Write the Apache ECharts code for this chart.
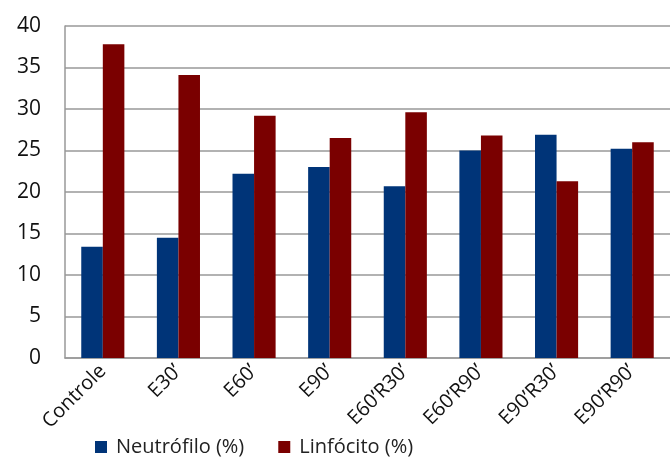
<!DOCTYPE html>
<html><head><meta charset="utf-8">
<script src="https://cdn.jsdelivr.net/npm/echarts@6/dist/echarts.min.js"></script>
<style>html,body{margin:0;padding:0;background:#fff}#c{width:670px;height:460px}</style>
</head><body><div id="c"></div>
<script>
const categories = ["Controle", "E30\u2019", "E60\u2019", "E90\u2019", "E60\u2019R30\u2019", "E60\u2019R90\u2019", "E90\u2019R30\u2019", "E90\u2019R90\u2019"];
const neutrofilo = [13.4, 14.5, 22.2, 23.0, 20.7, 25.0, 26.9, 25.2];
const linfocito = [37.8, 34.1, 29.2, 26.5, 29.6, 26.8, 21.3, 26.0];
const yTicks = {min: 0, max: 40, interval: 5};

const chart = echarts.init(document.getElementById('c'));
const font = '"Open Sans", sans-serif';
chart.setOption({
  animation: false,
  grid: {left: 65, right: -2, top: 26, bottom: 102, containLabel: false},
  legend: {
    bottom: -2, left: 90, itemWidth: 12, itemHeight: 12, itemGap: 34,
    icon: 'rect',
    textStyle: {fontFamily: font, fontSize: 20, color: '#222', padding: [0, 0, 0, 4]},
    data: ['Neutr\u00f3filo (%)', 'Linf\u00f3cito (%)']
  },
  xAxis: {
    type: 'category', data: categories,
    axisLine: {lineStyle: {color: '#999', width: 1.5}},
    axisTick: {show: false},
    axisLabel: {rotate: 45, fontFamily: font, fontSize: 20, color: '#111', margin: 10, interval: 0}
  },
  yAxis: {
    type: 'value', min: yTicks.min, max: yTicks.max, interval: yTicks.interval,
    axisLine: {show: true, lineStyle: {color: '#999', width: 1.5}},
    axisTick: {show: false},
    splitLine: {lineStyle: {color: '#999', width: 1.5}},
    axisLabel: {fontFamily: font, fontSize: 21, color: '#111', margin: 24}
  },
  series: [
    {name: 'Neutr\u00f3filo (%)', type: 'bar', data: neutrofilo, barGap: '0%', barCategoryGap: '43%',
     itemStyle: {color: '#003478'}},
    {name: 'Linf\u00f3cito (%)', type: 'bar', data: linfocito,
     itemStyle: {color: '#7A0000'}}
  ]
});
</script></body></html>
